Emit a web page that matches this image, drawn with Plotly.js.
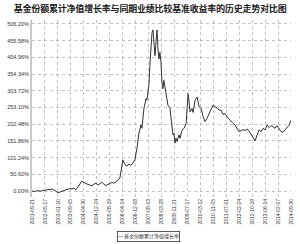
<!DOCTYPE html>
<html>
<head>
<meta charset="utf-8">
<script src="https://cdn.plot.ly/plotly-3.0.1.min.js"></script>
<style>html,body{margin:0;padding:0;background:#fff;}#chart{width:300px;height:244px;}</style>
</head>
<body>
<div id="chart"></div>
<script>
const chartTitle = "基金份额累计净值增长率与同期业绩比较基准收益率的历史走势对比图";
const seriesName = "基金份额累计净值增长率";
const dates = [
"2001-09-21","2001-11-13","2002-01-08","2002-03-03","2002-04-27","2002-06-21","2002-08-18","2002-09-24","2002-10-30","2002-12-06",
"2003-01-12","2003-02-17","2003-03-26","2003-05-01","2003-06-07","2003-07-13","2003-08-19","2003-09-24","2003-10-31","2003-12-06",
"2004-01-12","2004-02-18","2004-03-26","2004-05-02","2004-06-08","2004-07-15","2004-08-21","2004-09-27","2004-11-03","2004-12-09",
"2005-01-15","2005-02-21","2005-03-29","2005-05-05","2005-06-11","2005-07-17","2005-08-23","2005-09-29","2005-11-04","2005-12-11",
"2006-01-16","2006-02-22","2006-03-30","2006-04-17","2006-05-24","2006-06-29","2006-08-06","2006-09-12","2006-10-19","2006-11-24",
"2007-01-01","2007-02-06","2007-03-15","2007-04-02","2007-05-09","2007-06-15","2007-07-02","2007-08-08","2007-08-26","2007-09-13",
"2007-10-04","2007-10-22","2007-11-09","2007-11-28","2007-12-16","2008-01-04","2008-01-22","2008-02-09","2008-02-27","2008-03-17",
"2008-04-04","2008-04-22","2008-05-10","2008-05-29","2008-07-05","2008-07-23","2008-08-29","2008-10-05","2008-10-23","2008-11-11",
"2008-11-29","2008-12-18","2009-01-05","2009-02-11","2009-03-02","2009-04-08","2009-05-15","2009-06-21","2009-07-28","2009-08-15",
"2009-09-02","2009-10-09","2009-10-27","2009-12-03","2010-01-09","2010-02-15","2010-03-24","2010-04-30","2010-06-06","2010-07-10",
"2010-08-15","2010-09-21","2010-10-27","2010-12-06","2011-01-11","2011-02-17","2011-03-25","2011-05-01","2011-06-06","2011-07-13",
"2011-08-19","2011-09-24","2011-10-31","2011-12-06","2012-01-12","2012-02-18","2012-03-26","2012-05-01","2012-06-07","2012-07-15",
"2012-08-21","2012-09-27","2012-11-02","2012-12-09","2013-01-15","2013-02-21","2013-03-29","2013-05-05","2013-06-10","2013-07-17",
"2013-08-23","2013-09-28","2013-11-03","2013-12-09","2014-01-15","2014-02-21","2014-03-31","2014-05-07","2014-06-13","2014-07-20",
"2014-08-26","2014-09-30"
];
const values = [
0,-1,1,0,2,3,4,6,3,-2,
-5,-3,0,1,4,5,8,6,9,4,
14,24,30,26,22,20,18,16,21,24,
18,22,27,20,17,20,22,26,24,29,
32,40,70,94,80,75,82,78,85,95,
130,175,200,190,250,280,275,320,380,440,
480,488,440,410,450,488,430,400,420,390,
330,310,335,315,290,260,250,200,170,175,
145,160,150,170,160,185,190,205,295,270,
240,250,238,275,285,255,250,225,210,220,
235,250,260,255,252,245,245,232,235,225,
218,210,205,200,190,180,183,186,183,188,
182,172,160,152,170,185,180,190,185,200,
192,198,195,190,198,188,180,178,185,192,
200,215
];
const tickDates = [
"2001-09-21","2002-05-17","2003-01-10","2003-09-05","2004-04-30","2004-12-24","2005-08-19",
"2006-04-14","2006-12-08","2007-08-03","2008-03-28","2008-11-21","2009-07-17","2010-03-12",
"2010-11-05","2011-07-01","2012-02-24","2012-10-19","2013-06-14","2014-02-07","2014-09-30"
];
const yTickVals = [0,50.62,101.24,151.86,202.48,253.10,303.72,354.34,404.96,455.58,506.20];
const yTickText = ["0.00%","50.62%","101.24%","151.86%","202.48%","253.10%","303.72%","354.34%","404.96%","455.58%","506.20%"];

const trace = {
  x: dates, y: values, type: "scatter", mode: "lines", name: seriesName,
  line: {color: "#333333", width: 1}, showlegend: false
};
const layout = {
  width: 300, height: 244,
  margin: {l: 32, r: 9, t: 20, b: 47, autoexpand: false},
  paper_bgcolor: "#fff", plot_bgcolor: "#fff",
  title: {text: chartTitle,
    font: {family: "Noto Sans CJK SC", size: 8.8, color: "#111", shadow: "0.35px 0 0 #111"},
    xref: "paper", x: 0.456, xanchor: "center", yref: "container", y: 0.963, yanchor: "middle"},
  xaxis: {
    type: "date", range: ["2001-09-21", "2014-09-30"], automargin: false,
    tickmode: "array", tickvals: tickDates, ticktext: tickDates, tickangle: -90,
    tickfont: {family: "Liberation Sans", size: 5, color: "#333"},
    showgrid: true, gridcolor: "#999", griddash: "dot", gridwidth: 0.6,
    showline: false, zeroline: false, ticks: ""
  },
  yaxis: {
    range: [-18, 518], automargin: false, tickmode: "array", tickvals: yTickVals, ticktext: yTickText,
    tickfont: {family: "Liberation Sans", size: 5.5, color: "#333"},
    showgrid: true, gridcolor: "#999", griddash: "dot", gridwidth: 0.6,
    showline: true, linecolor: "#c8c8c8", linewidth: 2, zeroline: false, ticks: ""
  },
  showlegend: false,
  annotations: [{
    text: "<b>—</b> " + seriesName, xref: "paper", yref: "paper",
    x: 0.45, y: -0.222, xanchor: "center", yanchor: "middle", showarrow: false,
    font: {family: "Noto Sans CJK SC", size: 5, color: "#333"},
    bordercolor: "#333", borderwidth: 0.8, borderpad: 0.5, bgcolor: "#fff"
  }]
};
Plotly.newPlot("chart", [trace], layout, {displayModeBar: false, staticPlot: true});
</script>
</body>
</html>
